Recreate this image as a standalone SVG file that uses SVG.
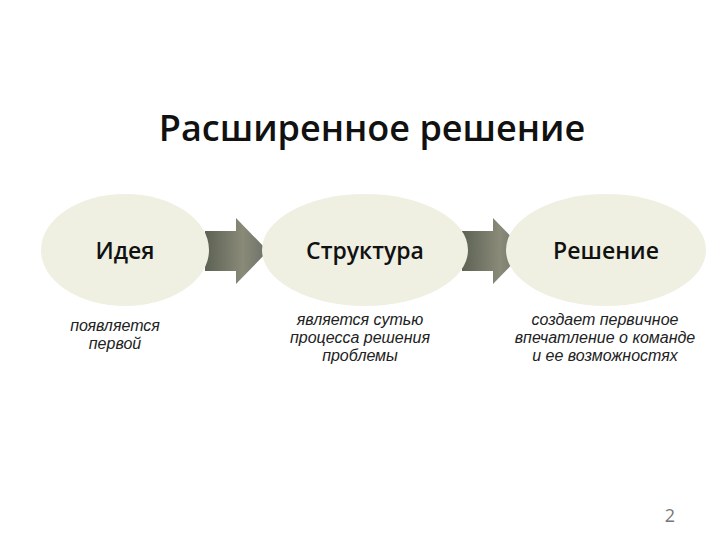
<svg xmlns="http://www.w3.org/2000/svg" width="720" height="540" viewBox="0 0 720 540">
<defs>
<style>
.t{font-family:"Open Sans","Liberation Sans",sans-serif;fill:#111}
.n{font-size:23px;font-weight:600;text-anchor:middle}
.s{font-family:"Liberation Sans",sans-serif;font-style:italic;font-size:16px;fill:#222;text-anchor:middle}
.e{fill:#efefe2}
</style>
<linearGradient id="g" x1="0" y1="0" x2="1" y2="0"><stop offset="0" stop-color="#5c6254"/><stop offset="0.6" stop-color="#8a8a78"/><stop offset="1" stop-color="#6a7068"/></linearGradient>
</defs>
<rect width="720" height="540" fill="#fff"/>
<text class="t" x="372" y="141" font-size="36" font-weight="600" text-anchor="middle">Расширенное решение</text>
<g id="connectors">
<path d="M205,231 H236 V218 L268,251 L236,284 V271 H205 Z" fill="url(#g)"/>
<path d="M462,231 H493 V218 L525,251 L493,284 V271 H462 Z" fill="url(#g)"/>
</g>
<g id="n1"><ellipse class="e" cx="125" cy="250" rx="84" ry="56"/><text class="t n" x="125" y="259">Идея</text>
<text class="s" x="115" y="331">появляется</text><text class="s" x="115" y="349">первой</text></g>
<g id="n2"><ellipse class="e" cx="365" cy="250" rx="103" ry="56"/><text class="t n" x="365" y="259">Структура</text>
<text class="s" x="360" y="325">является сутью</text><text class="s" x="360" y="343">процесса решения</text><text class="s" x="360" y="361">проблемы</text></g>
<g id="n3"><ellipse class="e" cx="606" cy="250" rx="100" ry="56"/><text class="t n" x="606" y="259">Решение</text>
<text class="s" x="605" y="325">создает первичное</text><text class="s" x="605" y="343">впечатление о команде</text><text class="s" x="605" y="361">и ее возможностях</text></g>
<text x="670" y="522" font-family="Open Sans,sans-serif" font-size="18" fill="#777" text-anchor="middle">2</text>
</svg>
